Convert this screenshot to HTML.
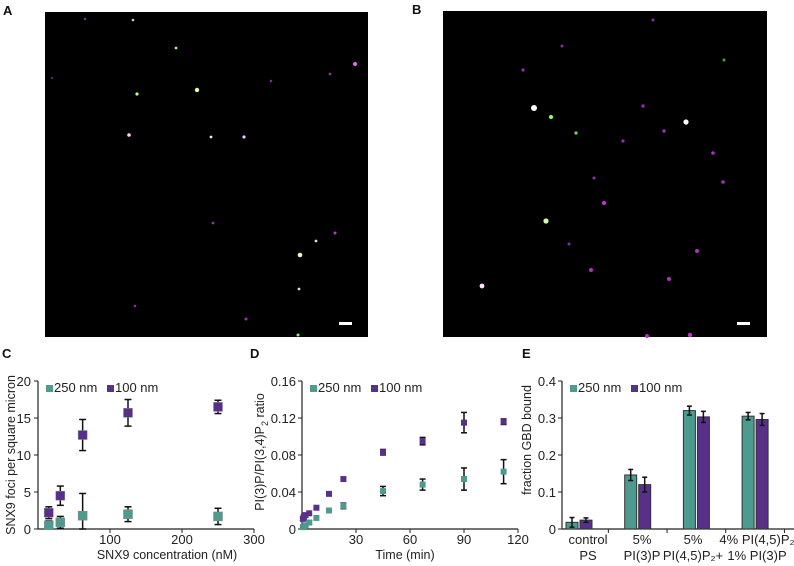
<!DOCTYPE html>
<html><head><meta charset="utf-8"><style>
body{margin:0;background:#fff;}
svg{display:block;font-family:"Liberation Sans",sans-serif;}
</style></head><body>
<svg id="fig" width="794" height="566" viewBox="0 0 794 566">
<g font-weight="bold" font-size="13" fill="#111">
<text x="3" y="15">A</text>
<text x="412" y="14">B</text>
<text x="2" y="358">C</text>
<text x="250" y="358">D</text>
<text x="522" y="358">E</text>
</g>
<rect x="45" y="12" width="323" height="325" fill="#000"/>
<rect x="443" y="11" width="324" height="326" fill="#000"/>
<rect x="339" y="322" width="13" height="3" fill="#fff"/>
<rect x="737" y="322" width="13" height="3" fill="#fff"/>
<g id="spots"></g>
<g id="c"></g><g id="d"></g><g id="e"></g>
</svg>
<script>
const NS="http://www.w3.org/2000/svg";
const TEAL="#4d9a8e", PURP="#58308a", INK="#222";
function mk(p,tag,at,txt){const e=document.createElementNS(NS,tag);for(const k in at)e.setAttribute(k,at[k]);if(txt!==undefined)e.textContent=txt;p.appendChild(e);return e;}

// micrograph spots [x,y,r,color]
const spotsA=[[197,90,2.2,"#d8ffb0"],[137,94,1.6,"#b8ff90"],[129,135,1.8,"#ffd0ff"],[211,137,1.4,"#eee"],[244,137,1.6,"#f0c8ff"],[355,64,2,"#e070f0"],[300,255,2.3,"#e0ffc0"],[299,289,1.4,"#ddd"],[316,241,1.4,"#ddd"],[335,233,1.5,"#b040c0"],[176,48,1.4,"#a0ff80"],[133,20,1.3,"#ccc"],[246,319,1.5,"#a030b0"],[298,335,1.5,"#80ff60"],[135,306,1.3,"#9030a0"],[213,223,1.4,"#9030a0"],[330,74,1.4,"#9030a0"],[271,81,1.3,"#8030a0"],[85,19,1.2,"#8030a0"],[52,78,1.1,"#702090"]];
const spotsB=[[534,108,3,"#ffffff"],[551,117,2,"#90ff70"],[576,133,1.6,"#70e050"],[686,122,2.6,"#ffffff"],[546,221,2.6,"#d0ffb0"],[482,286,2.4,"#ffe0ff"],[604,203,2.2,"#c030d0"],[523,70,1.6,"#9030b0"],[643,106,1.7,"#9030b0"],[664,131,1.7,"#a030c0"],[623,141,1.6,"#9030b0"],[713,153,1.8,"#a030c0"],[723,182,1.8,"#a030c0"],[594,178,1.5,"#9030b0"],[697,251,2,"#b030c0"],[591,270,2,"#b030c0"],[669,279,2,"#b030c0"],[569,244,1.5,"#8030a0"],[690,335,2.2,"#c030d0"],[647,336,2,"#b030c0"],[562,46,1.5,"#8030a0"],[653,20,1.5,"#8030a0"],[724,60,1.5,"#50a040"]];
const sp=document.getElementById('spots');
spotsA.concat(spotsB).forEach(s=>{const c=mk(sp,'circle',{cx:s[0],cy:s[1],r:s[2],fill:s[3]});

});

// ---------- Panel C data
const cConc=[15,31,62,125,250];
const c250=[0.5,0.9,1.8,2.0,1.7];
const c250err=[0.6,0.8,3.0,1.0,1.1];
const c100=[2.2,4.5,12.7,15.7,16.5];
const c100err=[0.8,1.3,2.1,1.8,0.9];
const cYTicks=[0,5,10,15,20];
const cXTicks=[100,200,300];
// ---------- Panel D data
const dTime=[0.5,1,2,4,8,15,23,45,67,90,112];
const d250=[0.002,0.003,0.004,0.007,0.012,0.020,0.025,0.041,0.048,0.054,0.062];
const d250err=[0,0.001,0.001,0.002,0,0,0.003,0.005,0.006,0.012,0.013];
const d100=[0.011,0.013,0.015,0.017,0.023,0.038,0.054,0.083,0.095,0.115,0.116];
const d100err=[0.002,0.002,0,0,0,0,0,0.003,0.004,0.011,0.003];
const dYTicks=[0,0.04,0.08,0.12,0.16];
const dYLabels=["0","0.04","0.08","0.12","0.16"];
const dXTicks=[30,60,90,120];
// ---------- Panel E data
const eCats=[["control","PS"],["5%","PI(3)P"],["5%","PI(4,5)P₂+"],["4% PI(4,5)P₂","1% PI(3)P"]];
const e250=[0.018,0.146,0.320,0.305];
const e250err=[0.013,0.015,0.012,0.010];
const e100=[0.024,0.120,0.303,0.296];
const e100err=[0.006,0.020,0.015,0.016];
const eYTicks=[0,0.1,0.2,0.3,0.4];
const eYLabels=["0","0.1","0.2","0.3","0.4"];

function lin(d0,d1,r0,r1){return v=>r0+(v-d0)/(d1-d0)*(r1-r0);}
function axes(g,x0,x1,y0,y1,name){
  mk(g,'line',{x1:x0,y1:y0,x2:x0,y2:y1,stroke:INK,'stroke-width':1.2,});
  mk(g,'line',{x1:x0,y1:y0,x2:x1,y2:y0,stroke:INK,'stroke-width':1.2,});
}
function legend(g,x,y,name){
  const l=mk(g,'g',{});
  mk(l,'rect',{x:x,y:y-7,width:7,height:7,fill:TEAL,});
  mk(l,'text',{x:x+8,y:y,'font-size':13,fill:INK,},"250 nm");
  mk(l,'rect',{x:x+61,y:y-7,width:7,height:7,fill:PURP,});
  mk(l,'text',{x:x+69,y:y,'font-size':13,fill:INK,},"100 nm");
}
function errbar(g,x,ya,yb,cap){
  const e=mk(g,'g',{stroke:"#111",'stroke-width':1.5});
  
  
  mk(e,'line',{x1:x,y1:ya,x2:x,y2:yb});
  mk(e,'line',{x1:x-cap,y1:ya,x2:x+cap,y2:ya});
  mk(e,'line',{x1:x-cap,y1:yb,x2:x+cap,y2:yb});
}

// ---------- Panel C
(function(){
  const g=document.getElementById('c');
  const X=lin(0,300,38,254),Y=lin(0,20,529,381);
  axes(g,38,254,529,381,'c');
  cYTicks.forEach(v=>{mk(g,'line',{x1:34,y1:Y(v),x2:38,y2:Y(v),stroke:INK});
    const t=mk(g,'text',{x:31,y:Y(v)+5,'font-size':13,'text-anchor':'end',fill:INK},v);
    });
  cXTicks.forEach(v=>{mk(g,'line',{x1:X(v),y1:529,x2:X(v),y2:533,stroke:INK});
    const t=mk(g,'text',{x:X(v),y:544,'font-size':13,'text-anchor':'middle',fill:INK},v);
    });
  mk(g,'text',{x:167,y:559,'font-size':12.5,'text-anchor':'middle',fill:INK,},"SNX9 concentration (nM)");
  mk(g,'text',{x:0,y:0,'font-size':12.5,'text-anchor':'middle',fill:INK,transform:'translate(15,455) rotate(-90)',},"SNX9 foci per square micron");
  [[c250,c250err,TEAL,'250'],[c100,c100err,PURP,'100']].forEach(([vals,errs,col,n])=>{
    vals.forEach((v,i)=>{const x=X(cConc[i]);
      errbar(g,x,Y(v+errs[i]),Y(Math.max(0,v-errs[i])),3.5);
      const r=mk(g,'rect',{x:x-4.5,y:Y(v)-4.5,width:9,height:9,fill:col,stroke:'#888','stroke-width':0.5});
      });
  });
  legend(g,46,392,'c');
})();

// ---------- Panel D
(function(){
  const g=document.getElementById('d');
  const X=lin(0,120,302,518),Y=lin(0,0.16,529,381);
  axes(g,302,518,529,381,'d');
  dYTicks.forEach((v,i)=>{mk(g,'line',{x1:298,y1:Y(v),x2:302,y2:Y(v),stroke:INK});
    const t=mk(g,'text',{x:296,y:Y(v)+5,'font-size':13,'text-anchor':'end',fill:INK},dYLabels[i]);
    });
  dXTicks.forEach(v=>{mk(g,'line',{x1:X(v),y1:529,x2:X(v),y2:533,stroke:INK});
    const t=mk(g,'text',{x:X(v),y:544,'font-size':13,'text-anchor':'middle',fill:INK},v);
    });
  mk(g,'text',{x:405,y:559,'font-size':12.5,'text-anchor':'middle',fill:INK,},"Time (min)");
  const yt=mk(g,'text',{x:0,y:0,'font-size':12.5,'text-anchor':'middle',fill:INK,transform:'translate(264,452) rotate(-90)',},"PI(3)P/PI(3,4)P");
  mk(yt,'tspan',{'font-size':9,dy:4},"2");mk(yt,'tspan',{dy:-4}," ratio");
  [[d250,d250err,TEAL,'250'],[d100,d100err,PURP,'100']].forEach(([vals,errs,col,n])=>{
    vals.forEach((v,i)=>{const x=X(dTime[i]);
      if(errs[i]>0)errbar(g,x,Y(v+errs[i]),Y(Math.max(0,v-errs[i])),3);
      const r=mk(g,'rect',{x:x-3,y:Y(v)-3,width:6,height:6,fill:col});
      });
  });
  legend(g,310,392,'d');
})();

// ---------- Panel E
(function(){
  const g=document.getElementById('e');
  const Y=lin(0,0.4,529,381);
  const step=58.7, c0=579;
  axes(g,562,794,529,381,'e');
  eYTicks.forEach((v,i)=>{mk(g,'line',{x1:558,y1:Y(v),x2:562,y2:Y(v),stroke:INK});
    const t=mk(g,'text',{x:556,y:Y(v)+5,'font-size':13,'text-anchor':'end',fill:INK},eYLabels[i]);
    });
  mk(g,'text',{x:0,y:0,'font-size':12.5,'text-anchor':'middle',fill:INK,transform:'translate(531,440) rotate(-90)',},"fraction GBD bound");
  const labX=[588,642,693,757];
  eCats.forEach((cat,i)=>{const cx=c0+i*step;
    mk(g,'line',{x1:cx+step/2,y1:529,x2:cx+step/2,y2:533,stroke:INK});
    const t1=mk(g,'text',{x:labX[i],y:544,'font-size':13,'text-anchor':'middle',fill:INK},cat[0]);
    
    const t2=mk(g,'text',{x:labX[i],y:560,'font-size':13,'text-anchor':'middle',fill:INK},cat[1]);
    
    [[e250,e250err,TEAL,-13,'250'],[e100,e100err,PURP,1,'100']].forEach(([vals,errs,col,off,n])=>{
      const v=vals[i];
      const b=mk(g,'rect',{x:cx+off,y:Y(v),width:12,height:529-Y(v),fill:col,stroke:'#333','stroke-width':1});
      
      errbar(g,cx+off+6,Y(v+errs[i]),Y(Math.max(0,v-errs[i])),2.5);
    });
  });
  legend(g,570,392,'e');
})();
</script>
</body></html>
